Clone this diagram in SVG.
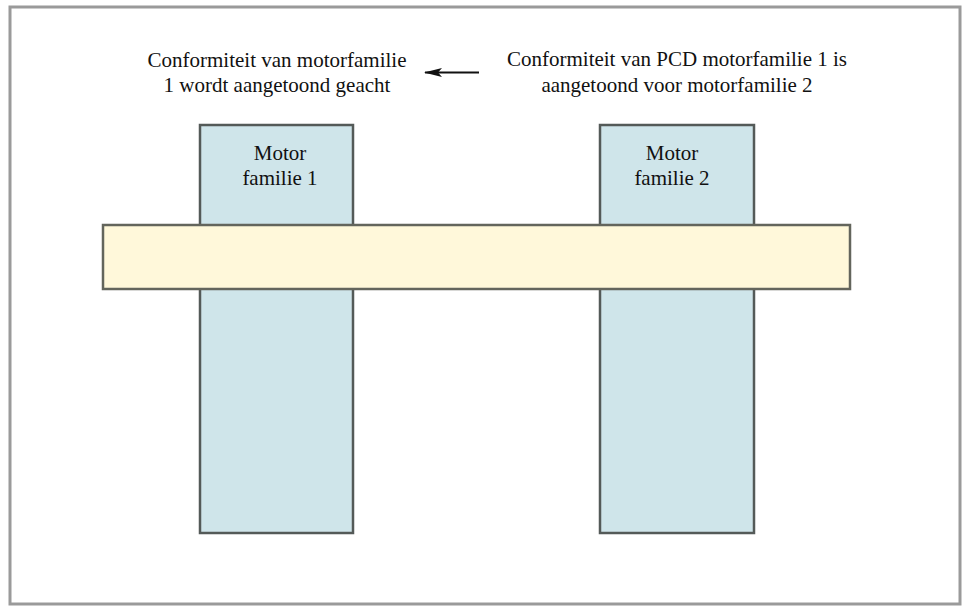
<svg xmlns="http://www.w3.org/2000/svg" width="966" height="612" viewBox="0 0 966 612">
<defs>
<style>
.t{font-family:"Liberation Serif","Times New Roman",serif;font-size:21px;fill:#111;text-anchor:middle}
.motor{fill:#cfe5ea;stroke:#545a58;stroke-width:2.5}
.bar{fill:#fff8da;stroke:#63655c;stroke-width:2.5}
</style>
<marker id="ah" markerWidth="18" markerHeight="12" refX="17" refY="6" orient="auto" markerUnits="userSpaceOnUse">
<path d="M0,1.5 L18,6 L0,10.5 L4,6 Z" fill="#111"/>
</marker>
</defs>
<rect x="0" y="0" width="966" height="612" fill="#fff"/>
<rect x="10" y="7" width="950" height="597" fill="#fff" stroke="#9a9a9a" stroke-width="3"/>
<g id="motor1"><rect class="motor" x="200" y="125" width="153" height="408"/></g>
<g id="motor2"><rect class="motor" x="600" y="125" width="154" height="408"/></g>
<g id="bar"><rect class="bar" x="103" y="225" width="747" height="64"/></g>
<g id="label1"><text class="t" x="280" y="160">Motor</text><text class="t" x="280" y="185">familie 1</text></g>
<g id="label2"><text class="t" x="672" y="160">Motor</text><text class="t" x="672" y="185">familie 2</text></g>
<g id="textleft"><text class="t" x="277" y="67">Conformiteit van motorfamilie</text><text class="t" x="277" y="92">1 wordt aangetoond geacht</text></g>
<g id="textright"><text class="t" x="677" y="66">Conformiteit van PCD motorfamilie 1 is</text><text class="t" x="677" y="92">aangetoond voor motorfamilie 2</text></g>
<g id="connectors"><line x1="479" y1="72.5" x2="425" y2="72.5" stroke="#111" stroke-width="2" marker-end="url(#ah)"/></g>
</svg>
